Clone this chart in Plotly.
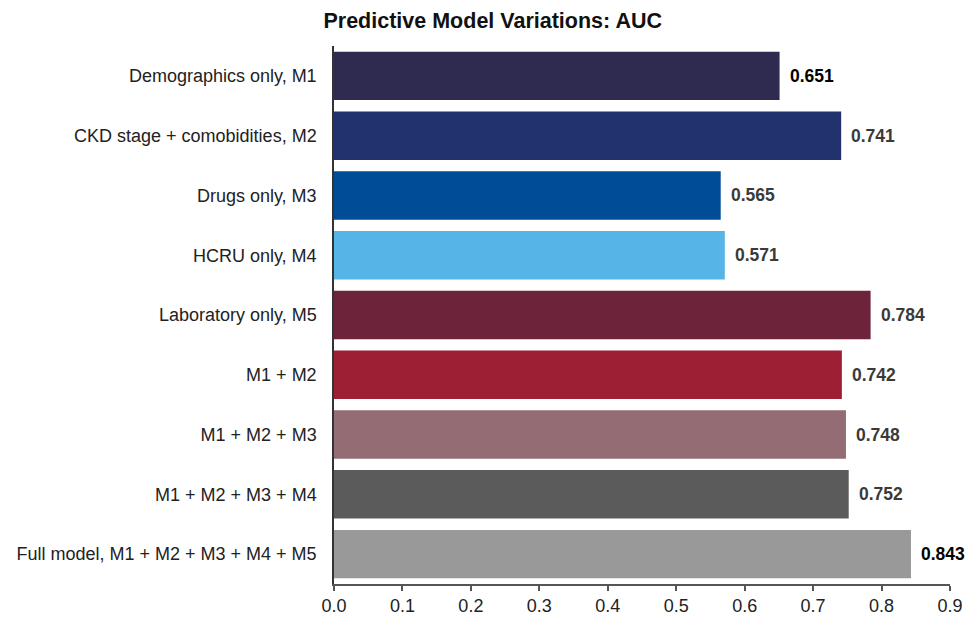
import plotly.graph_objects as go

categories = [
    "Demographics only, M1",
    "CKD stage + comobidities, M2",
    "Drugs only, M3",
    "HCRU only, M4",
    "Laboratory only, M5",
    "M1 + M2",
    "M1 + M2 + M3",
    "M1 + M2 + M3 + M4",
    "Full model, M1 + M2 + M3 + M4 + M5",
]
auc = [0.651, 0.741, 0.565, 0.571, 0.784, 0.742, 0.748, 0.752, 0.843]
bar_colors = ["#2E2A50", "#22326E", "#004C97", "#56B5E6", "#6D233A",
              "#9C1F34", "#936D73", "#5B5B5B", "#999999"]
label_colors = ["#000000", "#3A3A3A", "#3A3A3A", "#3A3A3A", "#3A3A3A",
                "#3A3A3A", "#3A3A3A", "#3A3A3A", "#000000"]
x_ticks = [0.0, 0.1, 0.2, 0.3, 0.4, 0.5, 0.6, 0.7, 0.8, 0.9]

FONT = "Arial, Liberation Sans, sans-serif"

fig = go.Figure(
    go.Bar(
        x=auc,
        y=categories,
        orientation="h",
        width=0.81,
        marker=dict(color=bar_colors, line=dict(width=0)),
        hoverinfo="skip",
    )
)

for cat, v, c in zip(categories, auc, label_colors):
    fig.add_annotation(
        x=v, y=cat, text=f"<b>{v:.3f}</b>", showarrow=False,
        xanchor="left", xshift=8,
        font=dict(family=FONT, size=17.5, color=c),
    )

fig.update_layout(
    width=968, height=618,
    margin=dict(l=334, r=18, t=46, b=34, autoexpand=False),
    paper_bgcolor="white", plot_bgcolor="white",
    showlegend=False,
    title=dict(
        text="<b>Predictive Model Variations: AUC</b>",
        x=0.509, xanchor="center", y=0.967, yanchor="middle",
        font=dict(family=FONT, size=21.5, color="#111111"),
    ),
    xaxis=dict(
        range=[0, 0.9], tickvals=x_ticks,
        ticktext=[f"{t:.1f}" for t in x_ticks],
        showgrid=False, zeroline=False, automargin=False,
        showline=True, linecolor="#555555", linewidth=1.5,
        ticks="outside", ticklen=5, tickwidth=1.5, tickcolor="#555555",
        tickfont=dict(family=FONT, size=18, color="#222222"),
        fixedrange=True,
    ),
    yaxis=dict(
        categoryorder="array", categoryarray=categories,
        autorange="reversed", automargin=False,
        showgrid=False, zeroline=False,
        showline=True, linecolor="#333333", linewidth=1.5,
        ticks="", ticklabelstandoff=12,
        tickfont=dict(family=FONT, size=18, color="#222222"),
        fixedrange=True,
    ),
)

fig.write_html(
    "out.html",
    config={"displayModeBar": False},
    post_script="document.body.style.margin='0';document.body.style.overflow='hidden';",
)
